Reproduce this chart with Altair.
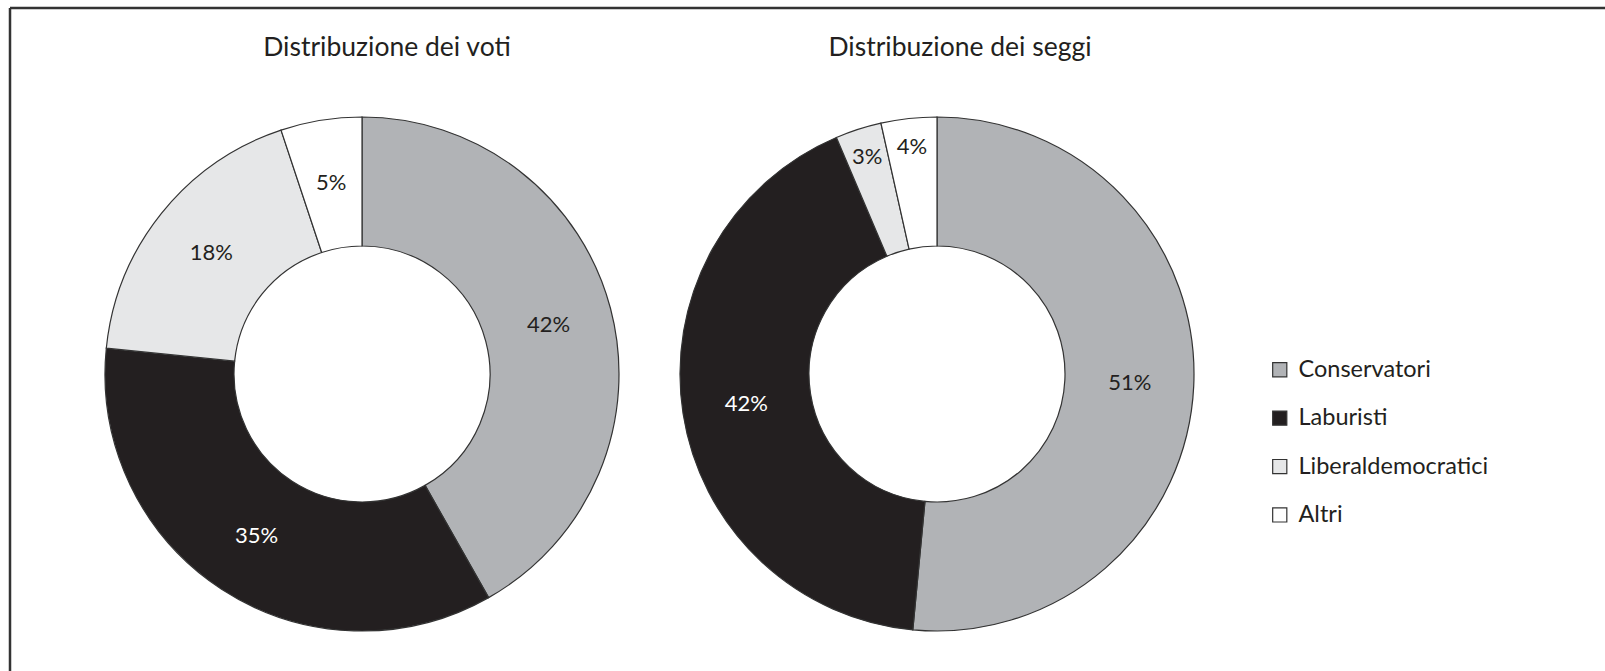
import altair as alt
import pandas as pd

parties = ["Conservatori", "Laburisti", "Liberaldemocratici", "Altri"]
voti = [41.8, 34.8, 18.3, 5.1]
seggi = [51.5, 42.1, 2.9, 3.5]
voti_labels = ["42%", "35%", "18%", "5%"]
seggi_labels = ["51%", "42%", "3%", "4%"]
colors = ["#b1b3b6", "#231f20", "#e6e7e8", "#ffffff"]
titles = ["Distribuzione dei voti", "Distribuzione dei seggi"]

rows = []
for i, p in enumerate(parties):
    rows.append({"chart": "voti", "party": p, "value": voti[i], "label": voti_labels[i], "ord": i})
for i, p in enumerate(parties):
    rows.append({"chart": "seggi", "party": p, "value": seggi[i], "label": seggi_labels[i], "ord": i})
df = pd.DataFrame(rows)

FONT = "Lato"
W, H = 1605, 671
centers = {"voti": (362, 374), "seggi": (937, 374)}
title_pos = {"voti": (387, 48), "seggi": (960, 48)}

color_scale = alt.Scale(domain=parties, range=colors)


def donut(name, show_legend, title_text):
    cx, cy = centers[name]
    base = alt.Chart(df).transform_filter(alt.datum.chart == name)
    if show_legend:
        legend = alt.Legend(
            title=None, orient="none", legendX=1268, legendY=358,
            symbolType="square", symbolSize=200, symbolStrokeColor="#333333",
            symbolStrokeWidth=1.2, labelFont=FONT, labelFontSize=23.5,
            labelColor="#231f20", rowPadding=23.4, labelOffset=7, labelLimit=400,
        )
        color = alt.Color("party:N", scale=color_scale, legend=legend)
    else:
        color = alt.Color("party:N", scale=color_scale, legend=None)
    arcs = base.mark_arc(innerRadius=128, outerRadius=257, stroke="#333333", strokeWidth=1.2).encode(
        theta=alt.Theta("value:Q", stack=True),
        color=color,
        order=alt.Order("ord:Q", sort="ascending"),
        x=alt.value(cx), y=alt.value(cy),
    )
    texts = base.transform_window(
        cum="sum(value)", sort=[alt.SortField("ord", order="ascending")]
    ).transform_joinaggregate(
        total="sum(value)"
    ).transform_calculate(
        ang="2 * PI * (datum.cum - datum.value / 2) / datum.total",
        r="datum.value < 5 ? 228 : 193",
    ).mark_text(font=FONT, fontSize=22).encode(
        theta=alt.Theta("ang:Q", scale=None, stack=None),
        radius=alt.Radius("r:Q", scale=None),
        text="label:N",
        color=alt.condition(alt.datum.party == "Laburisti", alt.value("#ffffff"), alt.value("#231f20")),
        x=alt.value(cx), y=alt.value(cy),
    )
    tx, ty = title_pos[name]
    title = alt.Chart(pd.DataFrame({"t": [title_text]})).mark_text(
        font=FONT, fontSize=26.5, color="#231f20"
    ).encode(text="t:N", x=alt.value(tx), y=alt.value(ty))
    return [arcs, texts, title]


frame_top = alt.Chart(pd.DataFrame({"a": [0]})).mark_rule(color="#333333", strokeWidth=2.5).encode(
    x=alt.value(10), x2=alt.value(W), y=alt.value(8)
)
frame_left = alt.Chart(pd.DataFrame({"a": [0]})).mark_rule(color="#333333", strokeWidth=2.5).encode(
    x=alt.value(10), y=alt.value(8), y2=alt.value(H)
)

layers = [frame_top, frame_left] + donut("voti", True, titles[0]) + donut("seggi", False, titles[1])

chart = alt.layer(*layers).properties(
    width=W, height=H, padding=0, autosize=alt.AutoSizeParams(type="none"),
    background="white",
).configure_view(stroke=None)

chart.save("out.html", embed_options={"renderer": "svg", "actions": False})
